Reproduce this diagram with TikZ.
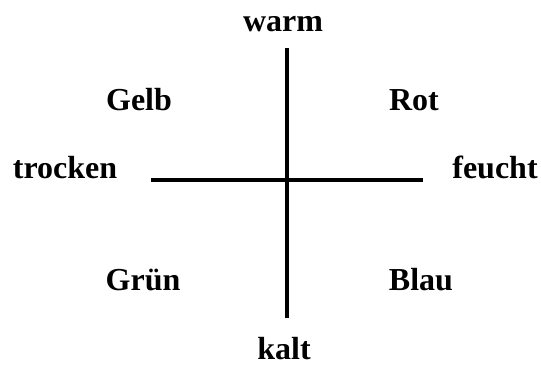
\documentclass[tikz,border=0pt]{standalone}
\usepackage{fontspec}
\setmainfont{Liberation Serif}
\begin{document}
\begin{tikzpicture}[
        x=1pt, y=-1pt,
        font=\fontsize{32}{36}\selectfont\bfseries,
        lbl/.style={anchor=base, inner sep=0pt},
        axis/.style={line width=3.3pt}
    ]
    \useasboundingbox (0,0) rectangle (541,365);

    % axis ends
    \coordinate (top)    at (287,48);
    \coordinate (bottom) at (287,318);
    \coordinate (left)   at (151,180);
    \coordinate (right)  at (423,180);

    \draw[axis] (top) -- (bottom);
    \draw[axis] (left) -- (right);

    % axis labels
    \node[lbl] (warm)    at (283,31)  {warm};
    \node[lbl] (kalt)    at (284,359) {kalt};
    \node[lbl] (trocken) at (65,178)  {trocken};
    \node[lbl] (feucht)  at (495,178) {feucht};

    % quadrants
    \node[lbl] (gelb)  at (139,110) {Gelb};
    \node[lbl] (rot)   at (414,110) {Rot};
    \node[lbl] (gruen) at (143,290) {Grün};
    \node[lbl] (blau)  at (421,290) {Blau};
\end{tikzpicture}
\end{document}
